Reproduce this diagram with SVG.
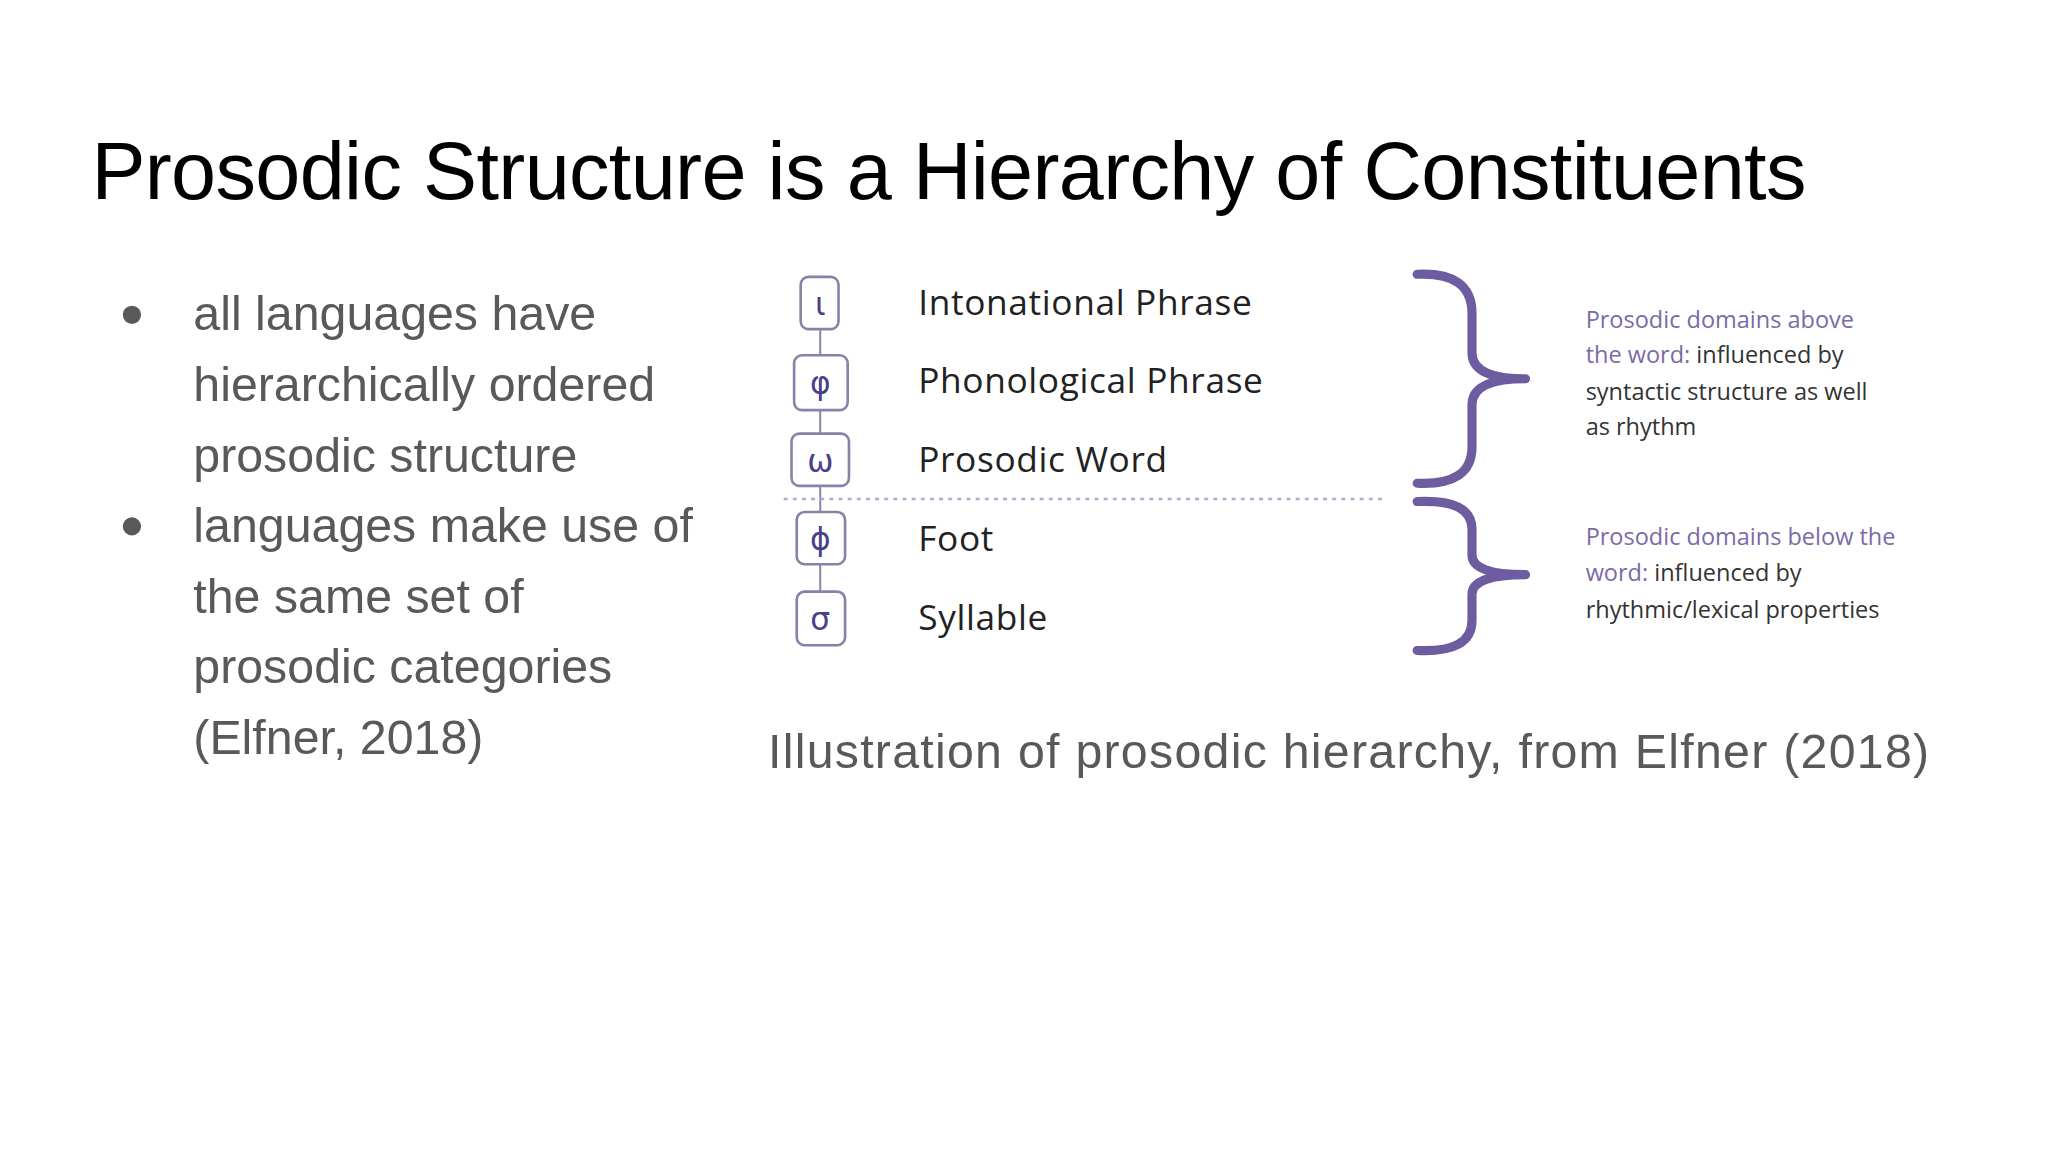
<svg xmlns="http://www.w3.org/2000/svg" width="2048" height="1152" viewBox="0 0 2048 1152">
<style>
.t{font-family:"Liberation Sans",Arial,sans-serif}
.b{font-family:"Liberation Sans",Arial,sans-serif;font-size:37px;fill:#595959}
.lab{font-family:"Open Sans","DejaVu Sans",sans-serif;font-size:27px;fill:#222;letter-spacing:0.5px}
.sym{font-family:"DejaVu Sans",sans-serif;font-size:24px;fill:#4a3f8a;text-anchor:middle}
.box{fill:#fff;stroke:#8a80a8;stroke-width:2}
.note{font-family:"Open Sans","DejaVu Sans",sans-serif;font-size:18px;fill:#333}
.pu{fill:#7b6aa8}
.brace{fill:none;stroke:#6e5ca0;stroke-width:7;stroke-linecap:round;stroke-linejoin:round}
</style>
<rect width="2048" height="1152" fill="#fff"/>
<g transform="scale(1.30612)">
<text class="t" x="70" y="152" font-size="62" fill="#000" textLength="1313">Prosodic Structure is a Hierarchy of Constituents</text>
<g id="bullets">
<circle cx="101" cy="241" r="7" fill="#595959"/>
<circle cx="101" cy="403" r="7" fill="#595959"/>
<text class="b" x="148" y="253">all languages have</text>
<text class="b" x="148" y="307">hierarchically ordered</text>
<text class="b" x="148" y="361">prosodic structure</text>
<text class="b" x="148" y="415">languages make use of</text>
<text class="b" x="148" y="469">the same set of</text>
<text class="b" x="148" y="523">prosodic categories</text>
<text class="b" x="148" y="577">(Elfner, 2018)</text>
</g>
<g id="connectors">
<line x1="628" y1="230" x2="628" y2="475" stroke="#8a80a8" stroke-width="1.5"/>
<line x1="600" y1="382" x2="1062" y2="382" stroke="#b8a8cc" stroke-width="2" stroke-dasharray="3,4"/>
<path class="brace" d="M1085 210 Q1127 208 1127 240 L1127 270 Q1127 290 1168 290 Q1127 290 1127 310 L1127 342 Q1127 372 1085 370"/>
<path class="brace" d="M1085 384 Q1127 382 1127 405 L1127 425 Q1127 440 1168 440 Q1127 440 1127 455 L1127 475 Q1127 500 1085 498"/>
</g>
<g id="n-iota"><rect class="box" x="613" y="212" width="29" height="40" rx="6"/><text class="sym" x="628" y="241">ι</text><text class="lab" x="703" y="241">Intonational Phrase</text></g>
<g id="n-phi"><rect class="box" x="608" y="272" width="41" height="42" rx="6"/><text class="sym" x="628" y="302">φ</text><text class="lab" x="703" y="301">Phonological Phrase</text></g>
<g id="n-omega"><rect class="box" x="606" y="332" width="44" height="40" rx="6"/><text class="sym" x="628" y="361">ω</text><text class="lab" x="703" y="361">Prosodic Word</text></g>
<g id="n-foot"><rect class="box" x="610" y="392" width="37" height="40" rx="6"/><text class="sym" x="628" y="421">ϕ</text><text class="lab" x="703" y="422">Foot</text></g>
<g id="n-syl"><rect class="box" x="610" y="453" width="37" height="41" rx="6"/><text class="sym" x="628" y="482">σ</text><text class="lab" x="703" y="482">Syllable</text></g>
<g id="note-above">
<text class="note" x="1214" y="251"><tspan class="pu">Prosodic domains above</tspan></text>
<text class="note" x="1214" y="278"><tspan class="pu">the word:</tspan> influenced by</text>
<text class="note" x="1214" y="306">syntactic structure as well</text>
<text class="note" x="1214" y="333">as rhythm</text>
</g>
<g id="note-below">
<text class="note" x="1214" y="417"><tspan class="pu">Prosodic domains below the</tspan></text>
<text class="note" x="1214" y="445"><tspan class="pu">word:</tspan> influenced by</text>
<text class="note" x="1214" y="473">rhythmic/lexical properties</text>
</g>
<text class="t" x="588" y="588" font-size="37" fill="#595959" textLength="889">Illustration of prosodic hierarchy, from Elfner (2018)</text>
</g>
</svg>
